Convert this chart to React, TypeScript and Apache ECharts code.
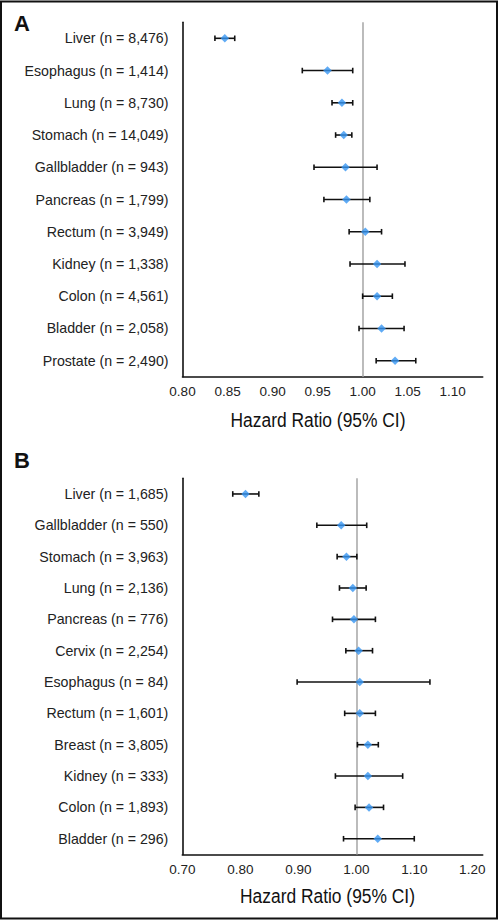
import React, { useEffect, useRef } from "react";
import * as echarts from "echarts";

// Panel A
const catsA = [
  "Liver (n = 8,476)",
  "Esophagus (n = 1,414)",
  "Lung (n = 8,730)",
  "Stomach (n = 14,049)",
  "Gallbladder (n = 943)",
  "Pancreas (n = 1,799)",
  "Rectum (n = 3,949)",
  "Kidney (n = 1,338)",
  "Colon (n = 4,561)",
  "Bladder (n = 2,058)",
  "Prostate (n = 2,490)",
];
const hrA = [0.847, 0.961, 0.977, 0.979, 0.981, 0.982, 1.003, 1.016, 1.016, 1.021, 1.036];
const lowA = [0.836, 0.933, 0.966, 0.970, 0.946, 0.957, 0.985, 0.986, 1.000, 0.996, 1.015];
const highA = [0.858, 0.989, 0.989, 0.988, 1.016, 1.008, 1.021, 1.047, 1.033, 1.046, 1.059];
const ticksA = { min: 0.8, max: 1.1333, interval: 0.05 };

// Panel B
const catsB = [
  "Liver (n = 1,685)",
  "Gallbladder (n = 550)",
  "Stomach (n = 3,963)",
  "Lung (n = 2,136)",
  "Pancreas (n = 776)",
  "Cervix (n = 2,254)",
  "Esophagus (n = 84)",
  "Rectum (n = 1,601)",
  "Breast (n = 3,805)",
  "Kidney (n = 333)",
  "Colon (n = 1,893)",
  "Bladder (n = 296)",
];
const hrB = [0.809, 0.974, 0.983, 0.994, 0.996, 1.004, 1.006, 1.006, 1.020, 1.020, 1.022, 1.037];
const lowB = [0.787, 0.932, 0.967, 0.971, 0.959, 0.982, 0.898, 0.980, 1.002, 0.964, 0.998, 0.978];
const highB = [0.832, 1.018, 1.001, 1.017, 1.033, 1.028, 1.127, 1.033, 1.038, 1.080, 1.047, 1.100];
const ticksB = { min: 0.7, max: 1.218, interval: 0.1 };

const refValue = 1.0;
const axisTitle = "Hazard Ratio (95% CI)";

const FONT = "'Liberation Sans', Arial, Helvetica, sans-serif";
const BLUE = "#3796f2";

function errorSeries(low: number[], high: number[], axisIdx: number) {
  return {
    type: "custom",
    xAxisIndex: axisIdx,
    yAxisIndex: axisIdx,
    encode: { x: [0, 1], y: 2 },
    data: low.map((l, i) => [l, high[i], i]),
    z: 3,
    renderItem: (params: any, api: any) => {
      const p1 = api.coord([api.value(0), api.value(2)]);
      const p2 = api.coord([api.value(1), api.value(2)]);
      const h = 2.8;
      const style = { stroke: "#111", lineWidth: 1.6 };
      return {
        type: "group",
        children: [
          { type: "line", shape: { x1: p1[0], y1: p1[1], x2: p2[0], y2: p2[1] }, style },
          { type: "line", shape: { x1: p1[0], y1: p1[1] - h, x2: p1[0], y2: p1[1] + h }, style },
          { type: "line", shape: { x1: p2[0], y1: p2[1] - h, x2: p2[0], y2: p2[1] + h }, style },
        ],
      };
    },
  };
}

function pointSeries(hr: number[], axisIdx: number) {
  return {
    type: "scatter",
    xAxisIndex: axisIdx,
    yAxisIndex: axisIdx,
    symbol: "diamond",
    symbolSize: [8.5, 8.5],
    itemStyle: { color: BLUE },
    data: hr.map((v, i) => [v, i]),
    z: 5,
    markLine: {
      silent: true,
      symbol: "none",
      label: { show: false },
      lineStyle: { color: "#ababab", width: 1.6, type: "solid" },
      data: [{ xAxis: refValue }],
      z: 1,
    },
  };
}

function xAxisDef(t: { min: number; max: number; interval: number }, gridIndex: number) {
  return {
    type: "value",
    gridIndex,
    min: t.min,
    max: t.max,
    interval: t.interval,
    axisLine: { show: true, lineStyle: { color: "#111", width: 1.6 } },
    axisTick: { show: false },
    splitLine: { show: false },
    axisLabel: {
      color: "#222",
      fontFamily: FONT,
      fontSize: 13.5,
      margin: 8,
      showMaxLabel: false,
      formatter: (v: number) => v.toFixed(2),
    },
  };
}

function yAxisDef(cats: string[], gridIndex: number) {
  return {
    type: "category",
    gridIndex,
    data: cats,
    inverse: true,
    axisLine: { show: true, lineStyle: { color: "#111", width: 1.6 } },
    axisTick: { show: false },
    splitLine: { show: false },
    axisLabel: { color: "#222", fontFamily: FONT, fontSize: 14.2, margin: 14, interval: 0 },
  };
}

function titleText(x: number, y: number) {
  return {
    type: "text",
    x,
    y,
    scaleX: 0.87,
    style: {
      text: axisTitle,
      font: `20px ${FONT}`,
      fill: "#111",
      align: "center",
      verticalAlign: "middle",
    },
  };
}

export default function App() {
  const ref = useRef<HTMLDivElement>(null);
  useEffect(() => {
    document.body.style.margin = "0";
    const chart = echarts.init(ref.current!, null, { renderer: "svg" });
    chart.setOption({
      animation: false,
      backgroundColor: "#fff",
      grid: [
        { left: 182.5, top: 22.2, width: 300.2, height: 354.6 },
        { left: 182.3, top: 478.3, width: 300.4, height: 376.1 },
      ],
      xAxis: [xAxisDef(ticksA, 0), xAxisDef(ticksB, 1)],
      yAxis: [yAxisDef(catsA, 0), yAxisDef(catsB, 1)],
      series: [
        errorSeries(lowA, highA, 0),
        pointSeries(hrA, 0),
        errorSeries(lowB, highB, 1),
        pointSeries(hrB, 1),
      ],
      graphic: [
        {
          type: "rect",
          shape: { x: 1, y: 1.5, width: 496, height: 917 },
          style: { fill: "none", stroke: "#111", lineWidth: 2 },
        },
        {
          type: "text",
          left: 14,
          top: 12,
          style: { text: "A", font: `bold 22px ${FONT}`, fill: "#111" },
        },
        {
          type: "text",
          left: 14,
          top: 449,
          style: { text: "B", font: `bold 22px ${FONT}`, fill: "#111" },
        },
        titleText(318, 420.5),
        titleText(327.5, 896.5),
      ],
    });
    return () => chart.dispose();
  }, []);
  return <div ref={ref} style={{ width: 498, height: 920 }} />;
}
